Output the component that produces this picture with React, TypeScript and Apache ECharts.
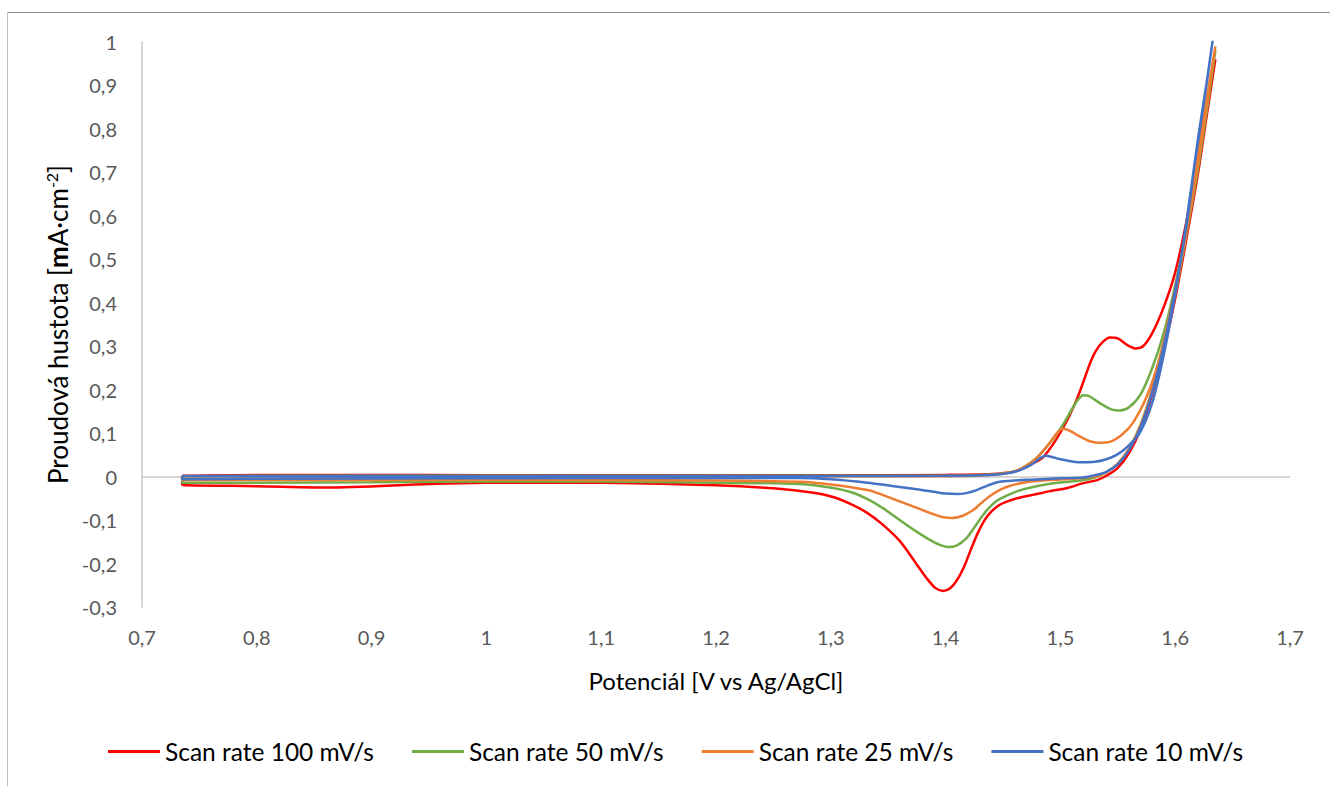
import React, { useEffect, useRef } from "react";
import * as echarts from "echarts";

// ---- Data (potential E [V vs Ag/AgCl], current density j [mA·cm-2]); each series is one CV loop ----
const seriesNames = ["Scan rate 100 mV/s", "Scan rate 50 mV/s", "Scan rate 25 mV/s", "Scan rate 10 mV/s"];
const seriesColors = ["#FF0000", "#70AD47", "#ED7D31", "#4472C4"];

const redE = [
  0.735, 0.8, 0.9, 1.0, 1.1, 1.2, 1.3, 1.4, 1.44, 1.46, 1.47, 1.478, 1.485, 1.495, 1.505, 1.514, 1.52, 1.526, 1.531,
  1.537, 1.543, 1.55, 1.558, 1.565, 1.572, 1.58, 1.59, 1.6, 1.61, 1.62, 1.628, 1.635,
  1.628, 1.62, 1.61, 1.6, 1.59, 1.58, 1.57, 1.56, 1.55, 1.54, 1.532, 1.52, 1.506, 1.49, 1.476, 1.465, 1.456, 1.447,
  1.44, 1.434, 1.428, 1.422, 1.416, 1.41, 1.404, 1.398, 1.391, 1.383, 1.373, 1.36, 1.345, 1.332, 1.318, 1.302, 1.285,
  1.25, 1.2, 1.1, 1.0, 0.95, 0.86, 0.8, 0.74, 0.735, 0.735,
];
const redJ = [
  0.002, 0.004, 0.004, 0.003, 0.003, 0.003, 0.003, 0.004, 0.006, 0.012, 0.022, 0.033, 0.045, 0.08, 0.125, 0.176,
  0.218, 0.262, 0.29, 0.31, 0.32, 0.318, 0.303, 0.295, 0.3, 0.33, 0.39, 0.47, 0.59, 0.74, 0.87, 0.96,
  0.84, 0.7, 0.55, 0.41, 0.29, 0.19, 0.11, 0.055, 0.02, 0.002, -0.008, -0.015, -0.026, -0.034, -0.042, -0.048,
  -0.055, -0.065, -0.08, -0.1, -0.13, -0.168, -0.208, -0.238, -0.257, -0.263, -0.256, -0.232, -0.195, -0.148, -0.11,
  -0.084, -0.064, -0.047, -0.037, -0.027, -0.02, -0.014, -0.014, -0.017, -0.025, -0.022, -0.02, -0.018, 0.002,
];

const greenE = [
  0.735, 0.8, 0.9, 1.0, 1.1, 1.2, 1.3, 1.4, 1.44, 1.46, 1.47, 1.48, 1.49, 1.5, 1.51, 1.515, 1.52, 1.525, 1.535,
  1.545, 1.552, 1.56, 1.57, 1.58, 1.59, 1.6, 1.61, 1.62, 1.628, 1.635,
  1.628, 1.62, 1.61, 1.6, 1.59, 1.58, 1.57, 1.56, 1.55, 1.54, 1.53, 1.52, 1.49, 1.476, 1.462, 1.447, 1.44, 1.433,
  1.425, 1.418, 1.41, 1.402, 1.394, 1.384, 1.372, 1.36, 1.345, 1.332, 1.318, 1.302, 1.273, 1.2, 1.1, 1.0, 0.9,
  0.8, 0.735, 0.735,
];
const greenJ = [
  0.0, 0.002, 0.002, 0.002, 0.002, 0.002, 0.002, 0.002, 0.005, 0.012, 0.025, 0.045, 0.075, 0.11, 0.155, 0.176,
  0.187, 0.185, 0.168, 0.154, 0.152, 0.16, 0.19, 0.25, 0.33, 0.44, 0.57, 0.73, 0.86, 0.98,
  0.85, 0.71, 0.56, 0.42, 0.3, 0.2, 0.12, 0.065, 0.03, 0.01, -0.002, -0.008, -0.017, -0.024, -0.034, -0.052,
  -0.066, -0.087, -0.117, -0.142, -0.158, -0.162, -0.156, -0.142, -0.122, -0.1, -0.072, -0.052, -0.036, -0.026,
  -0.017, -0.014, -0.011, -0.011, -0.013, -0.014, -0.014, 0.0,
];

const orangeE = [
  0.735, 0.8, 0.9, 1.0, 1.1, 1.2, 1.3, 1.4, 1.44, 1.46, 1.47, 1.48, 1.49, 1.497, 1.502, 1.508, 1.515, 1.525, 1.533,
  1.543, 1.553, 1.563, 1.575, 1.585, 1.595, 1.605, 1.615, 1.625, 1.635,
  1.628, 1.62, 1.61, 1.6, 1.59, 1.58, 1.57, 1.56, 1.55, 1.54, 1.53, 1.51, 1.49, 1.47, 1.455, 1.447, 1.439, 1.431,
  1.424, 1.415, 1.406, 1.397, 1.389, 1.375, 1.36, 1.345, 1.332, 1.3, 1.273, 1.2, 1.0, 0.8, 0.735, 0.735,
];
const orangeJ = [
  0.001, 0.001, 0.001, 0.001, 0.001, 0.001, 0.001, 0.001, 0.004, 0.012, 0.025, 0.045, 0.075, 0.1, 0.11, 0.106, 0.095,
  0.082, 0.078, 0.08, 0.095, 0.123, 0.183, 0.26, 0.37, 0.5, 0.66, 0.83, 0.99,
  0.86, 0.72, 0.565, 0.425, 0.305, 0.2, 0.12, 0.065, 0.03, 0.01, 0.0, -0.005, -0.008, -0.013, -0.022, -0.031,
  -0.044, -0.061, -0.077, -0.09, -0.095, -0.093, -0.086, -0.072, -0.057, -0.042, -0.031, -0.018, -0.012, -0.009,
  -0.007, -0.008, -0.008, 0.001,
];

const blueE = [
  0.735, 0.8, 0.9, 1.0, 1.1, 1.2, 1.3, 1.4, 1.44, 1.455, 1.465, 1.475, 1.482, 1.487, 1.493, 1.5, 1.51, 1.52, 1.53,
  1.54, 1.549, 1.558, 1.569, 1.58, 1.59, 1.6, 1.61, 1.62, 1.627, 1.633,
  1.625, 1.617, 1.61, 1.6, 1.59, 1.58, 1.57, 1.56, 1.55, 1.54, 1.53, 1.52, 1.5, 1.475, 1.46, 1.447, 1.437, 1.427,
  1.418, 1.41, 1.4, 1.39, 1.375, 1.355, 1.332, 1.3, 1.273, 1.2, 1.0, 0.8, 0.735, 0.735,
];
const blueJ = [
  0.0015, 0.0015, 0.0015, 0.0015, 0.0015, 0.0015, 0.0015, 0.002, 0.004, 0.008, 0.015, 0.028, 0.042, 0.048, 0.045,
  0.04, 0.035, 0.033, 0.034, 0.04, 0.05, 0.068, 0.1, 0.17, 0.28, 0.42, 0.59, 0.78, 0.9, 1.01,
  0.86, 0.72, 0.58, 0.43, 0.3, 0.195, 0.115, 0.062, 0.028, 0.011, 0.003, -0.002, -0.004, -0.007, -0.009, -0.012,
  -0.02, -0.031, -0.038, -0.04, -0.039, -0.035, -0.029, -0.022, -0.014, -0.006, -0.003, -0.003, -0.004, -0.005,
  -0.006, 0.0015,
];

const xMin = 0.7;
const xMax = 1.7;
const yMin = -0.3;
const yMax = 1;
const tickStep = 0.1;

const xTitle = "Potenciál [V vs Ag/AgCl]";
const yTitle = "Proudová hustota [{b|m}A·cm{sup|-2}]";

const seriesE = [redE, greenE, orangeE, blueE];
const seriesJ = [redJ, greenJ, orangeJ, blueJ];

const fmt = (v: number) => {
  const r = Math.round(v * 10) / 10;
  return String(r).replace(".", ",");
};

const FONT = "Lato, 'Open Sans', sans-serif";

export default function App() {
  const ref = useRef<HTMLDivElement>(null);
  useEffect(() => {
    if (!ref.current) return;
    const chart = echarts.init(ref.current, undefined, { renderer: "svg" });
    const series: any[] = seriesNames.map((name, i) => ({
      name,
      type: "line",
      data: seriesE[i].map((e, k) => [e, seriesJ[i][k]]),
      symbol: "none",
      smooth: 0.3,
      lineStyle: { color: seriesColors[i], width: 2.5 },
      itemStyle: { color: seriesColors[i] },
      z: 3 + i,
    }));
    series[0].markLine = {
      silent: true,
      symbol: "none",
      label: { show: false },
      lineStyle: { color: "#c8c8c8", width: 1.5, type: "solid" },
      data: [{ yAxis: 0 }],
      z: 1,
    };
    chart.setOption({
      animation: false,
      backgroundColor: "#ffffff",
      textStyle: { fontFamily: FONT },
      grid: { left: 142, right: 40, top: 42, bottom: 179, containLabel: false },
      graphic: [
        { type: "line", shape: { x1: 7, y1: 12.5, x2: 1330, y2: 12.5 }, style: { stroke: "#8c8c8c", lineWidth: 1 } },
        { type: "line", shape: { x1: 7.5, y1: 12, x2: 7.5, y2: 786 }, style: { stroke: "#bfbfbf", lineWidth: 1 } },
      ],
      xAxis: {
        type: "value",
        min: xMin,
        max: xMax,
        interval: tickStep,
        axisLine: { show: false, onZero: false },
        axisTick: { show: false },
        splitLine: { show: false },
        axisLabel: { formatter: fmt, color: "#595959", fontSize: 20, fontFamily: FONT, margin: 20 },
        name: xTitle,
        nameLocation: "middle",
        nameGap: 61,
        nameTextStyle: { color: "#000000", fontSize: 24, fontFamily: FONT },
      },
      yAxis: {
        type: "value",
        min: yMin,
        max: yMax,
        interval: tickStep,
        axisLine: { show: true, lineStyle: { color: "#c8c8c8", width: 1.5 } },
        axisTick: { show: false },
        splitLine: { show: false },
        axisLabel: { formatter: fmt, color: "#595959", fontSize: 20, fontFamily: FONT, margin: 25 },
        name: yTitle,
        nameLocation: "middle",
        nameRotate: 90,
        nameGap: 68,
        nameTextStyle: {
          color: "#000000",
          fontSize: 26,
          fontFamily: FONT,
          rich: {
            b: { fontWeight: "bold", fontSize: 26, fontFamily: FONT, color: "#000000" },
            sup: { fontSize: 16, fontFamily: FONT, color: "#000000", padding: [0, 0, 12, 0] },
          },
        },
      },
      legend: {
        data: seriesNames,
        left: 103,
        top: 734,
        icon: "rect",
        itemWidth: 52,
        itemHeight: 3,
        itemGap: 38,
        textStyle: { color: "#000000", fontSize: 24.5, fontFamily: FONT },
      },
      series,
    });
    return () => chart.dispose();
  }, []);
  return (
    <div
      ref={ref}
      style={{ position: "fixed", left: 0, top: 0, width: 1330, height: 786, background: "#fff" }}
    />
  );
}
